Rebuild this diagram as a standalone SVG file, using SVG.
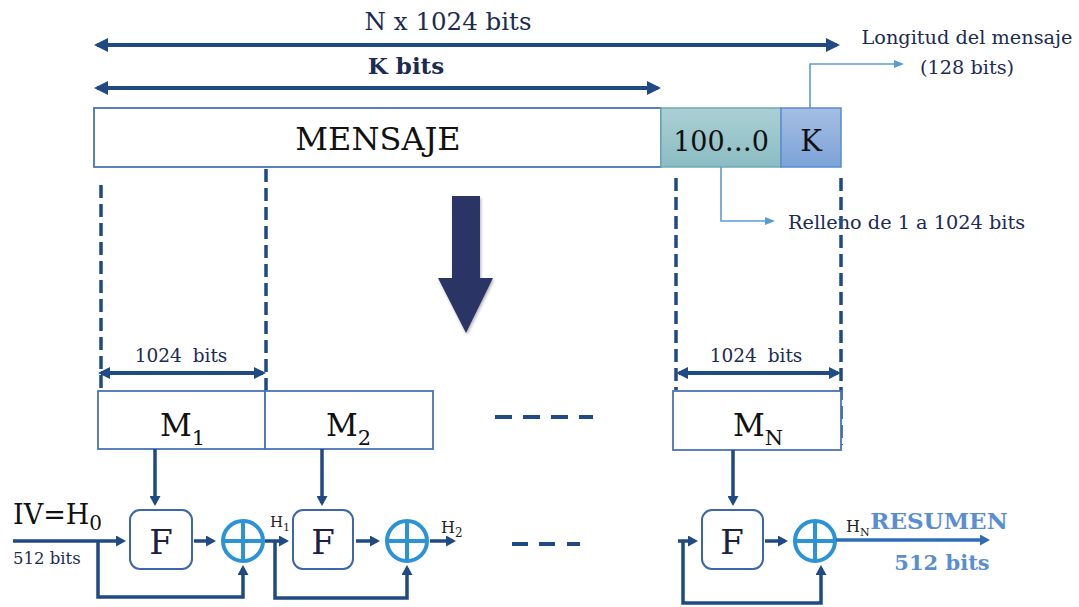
<svg xmlns="http://www.w3.org/2000/svg" width="1079" height="607" viewBox="0 0 1079 607">
<style>
.serif{font-family:"DejaVu Serif","Liberation Serif",serif}
.navy{fill:#1c2b52}
.box{fill:#fff;stroke:#4a72b8;stroke-width:1.8}
.fbox{fill:#fff;stroke:#3d66ad;stroke-width:2}
.flow{fill:none;stroke:#1f4a84;stroke-width:3.5}
.dash{fill:none;stroke:#1f4a84;stroke-width:3.5;stroke-dasharray:13 6}
.dim{fill:none;stroke:#1f4a84;stroke-width:4}
.call{fill:none;stroke:#5b9bd5;stroke-width:1.6}
.xor{fill:#fff;stroke:#2b93d6;stroke-width:4}
.plus{stroke:#2b93d6;stroke-width:4}
</style>
<defs>
<marker id="a-big" viewBox="0 0 14 14" markerWidth="14" markerHeight="14" refX="11" refY="7" orient="auto-start-reverse" markerUnits="userSpaceOnUse"><path d="M0,0 L14,7 L0,14 z" fill="#1f4a84"/></marker>
<marker id="a-dim" viewBox="0 0 12 12" markerWidth="12" markerHeight="12" refX="9" refY="6" orient="auto-start-reverse" markerUnits="userSpaceOnUse"><path d="M0,0 L12,6 L0,12 z" fill="#1f4a84"/></marker>
<marker id="a-flow" viewBox="0 0 10 11" markerWidth="10" markerHeight="11" refX="7" refY="5.5" orient="auto" markerUnits="userSpaceOnUse"><path d="M0,0 L10,5.5 L0,11 z" fill="#1f4a84"/></marker>
<marker id="a-out" viewBox="0 0 10 11" markerWidth="10" markerHeight="11" refX="7" refY="5.5" orient="auto" markerUnits="userSpaceOnUse"><path d="M0,0 L10,5.5 L0,11 z" fill="#2e6db4"/></marker>
<marker id="a-call" viewBox="0 0 10 8" markerWidth="10" markerHeight="8" refX="8" refY="4" orient="auto" markerUnits="userSpaceOnUse"><path d="M0,0 L10,4 L0,8 z" fill="#5b9bd5"/></marker>
<linearGradient id="g-pad" x1="0" y1="0" x2="0" y2="1"><stop offset="0" stop-color="#abd0d5"/><stop offset="1" stop-color="#8bbcc3"/></linearGradient>
<linearGradient id="g-k" x1="0" y1="0" x2="0" y2="1"><stop offset="0" stop-color="#a5bfe4"/><stop offset="1" stop-color="#7ca2d8"/></linearGradient>
<filter id="sh" x="-30%" y="-10%" width="160%" height="130%"><feDropShadow dx="1" dy="2" stdDeviation="1.5" flood-color="#000" flood-opacity="0.3"/></filter>
</defs>

<!-- dimension labels -->
<g id="dim-total">
<line class="dim" x1="97" y1="45" x2="837" y2="45" marker-start="url(#a-big)" marker-end="url(#a-big)"/>
<text class="serif navy" x="448" y="30" font-size="24.5" text-anchor="middle">N x 1024 bits</text>
</g>
<g id="dim-k">
<line class="dim" x1="97" y1="88" x2="658" y2="88" marker-start="url(#a-big)" marker-end="url(#a-big)"/>
<text class="serif navy" x="406" y="74" font-size="23" font-weight="bold" text-anchor="middle">K bits</text>
</g>

<!-- message boxes -->
<g id="mensaje">
<rect class="box" x="94" y="108" width="567" height="59"/>
<text class="serif" x="378" y="150" font-size="32" text-anchor="middle" fill="#111">MENSAJE</text>
</g>
<g id="relleno">
<rect x="661" y="108" width="120" height="59" fill="url(#g-pad)" stroke="#6fabb2" stroke-width="1.5"/>
<text class="serif" x="721" y="151" font-size="27" text-anchor="middle" fill="#111">100…0</text>
</g>
<g id="longitud">
<rect x="781" y="108" width="60" height="59" fill="url(#g-k)" stroke="#5b8bd0" stroke-width="1.5"/>
<text class="serif" x="811" y="151" font-size="29" text-anchor="middle" fill="#111">K</text>
</g>
<g id="label-longitud">
<text class="serif navy" x="967" y="44" font-size="19.3" text-anchor="middle">Longitud del mensaje</text>
<text class="serif navy" x="967" y="74" font-size="19.3" text-anchor="middle">(128 bits)</text>
</g>
<g id="label-relleno">
<text class="serif navy" x="788" y="229" font-size="19.3">Relleno de 1 a 1024 bits</text>
</g>

<!-- big arrow -->
<g id="big-arrow">
<polygon points="452,196 480,196 480,278 493,278 466,333 438,278 452,278" fill="#2b3566" filter="url(#sh)"/>
</g>

<!-- dashed guides and block dims -->
<g id="guides">
<line class="dash" x1="101" y1="185" x2="101" y2="395"/>
<line class="dash" x1="266" y1="169" x2="266" y2="392"/>
<line class="dash" x1="676" y1="178" x2="676" y2="390"/>
<line class="dash" x1="841" y1="178" x2="841" y2="445"/>
</g>
<g id="dim-m1">
<line class="dim" x1="101" y1="373" x2="263" y2="373" stroke-width="3.5" marker-start="url(#a-dim)" marker-end="url(#a-dim)"/>
<text class="serif navy" x="181" y="362" font-size="18.5" text-anchor="middle" word-spacing="5">1024 bits</text>
</g>
<g id="dim-mn">
<line class="dim" x1="679" y1="373" x2="838" y2="373" stroke-width="3.5" marker-start="url(#a-dim)" marker-end="url(#a-dim)"/>
<text class="serif navy" x="756" y="362" font-size="18.5" text-anchor="middle" word-spacing="5">1024 bits</text>
</g>

<!-- blocks -->
<g id="m1">
<rect class="box" x="98" y="391" width="167" height="58"/>
<text class="serif" x="160" y="436" font-size="31" fill="#111">M<tspan font-size="21" dy="9">1</tspan></text>
</g>
<g id="m2">
<rect class="box" x="265" y="391" width="168" height="58"/>
<text class="serif" x="326" y="436" font-size="31" fill="#111">M<tspan font-size="21" dy="9">2</tspan></text>
</g>
<g id="mn">
<rect class="box" x="673" y="391" width="168" height="59"/>
<text class="serif" x="733" y="436" font-size="31" fill="#111">M<tspan font-size="21" dy="9">N</tspan></text>
</g>
<g id="dots-top">
<path d="M495,417 h17 M523,417 h17 M551,417 h17 M579,417 h14" stroke="#1f4a84" stroke-width="4"/>
</g>

<!-- compression functions -->
<g id="f1">
<rect class="fbox" x="130" y="510" width="62" height="59" rx="10"/>
<text class="serif" x="161" y="554" font-size="34" text-anchor="middle" fill="#1c2044">F</text>
</g>
<g id="f2">
<rect class="fbox" x="293" y="510" width="60" height="59" rx="10"/>
<text class="serif" x="323" y="554" font-size="34" text-anchor="middle" fill="#1c2044">F</text>
</g>
<g id="fn">
<rect class="fbox" x="702" y="510" width="61" height="59" rx="10"/>
<text class="serif" x="732" y="554" font-size="34" text-anchor="middle" fill="#1c2044">F</text>
</g>
<g id="xor1">
<circle class="xor" cx="243" cy="541" r="20"/>
<path class="plus" d="M225,541 h36 M243,523 v36"/>
</g>
<g id="xor2">
<circle class="xor" cx="407" cy="541" r="20"/>
<path class="plus" d="M389,541 h36 M407,523 v36"/>
</g>
<g id="xorn">
<circle class="xor" cx="815" cy="541" r="20"/>
<path class="plus" d="M797,541 h36 M815,523 v36"/>
</g>
<g id="dots-bottom">
<path d="M512,544 h16 M539,544 h16 M567,544 h13" stroke="#1f4a84" stroke-width="4"/>
</g>

<!-- labels -->
<g id="iv">
<text class="serif" x="13" y="524" font-size="27" fill="#111">IV=H<tspan font-size="20" dy="6">0</tspan></text>
<text class="serif navy" x="13" y="564" font-size="16.5">512 bits</text>
</g>
<g id="h1"><text class="serif" x="270" y="527" font-size="15" fill="#222">H<tspan font-size="11" dy="4">1</tspan></text></g>
<g id="h2"><text class="serif" x="441" y="533" font-size="16" fill="#222">H<tspan font-size="12" dy="4">2</tspan></text></g>
<g id="hn"><text class="serif" x="846" y="532" font-size="16" fill="#222">H<tspan font-size="11" dy="4">N</tspan></text></g>
<g id="resumen">
<text class="serif" x="939" y="529" font-size="23" font-weight="bold" text-anchor="middle" fill="#5b8dd3">RESUMEN</text>
<text class="serif" x="942" y="570" font-size="21" font-weight="bold" text-anchor="middle" fill="#5b8dd3">512 bits</text>
</g>

<!-- connectors -->
<g id="connectors">
<path class="call" d="M810,108 V64 H902" marker-end="url(#a-call)"/>
<path class="call" d="M721,167 V221 H773" marker-end="url(#a-call)"/>
<line class="flow" x1="155" y1="449" x2="155" y2="503" marker-end="url(#a-flow)"/>
<line class="flow" x1="322" y1="449" x2="322" y2="503" marker-end="url(#a-flow)"/>
<line class="flow" x1="733" y1="450" x2="733" y2="503" marker-end="url(#a-flow)"/>
<line class="flow" x1="13" y1="541" x2="123" y2="541" marker-end="url(#a-flow)"/>
<path class="flow" d="M98,541 V597 H243 V568" marker-end="url(#a-flow)"/>
<line class="flow" x1="194" y1="541" x2="213" y2="541" marker-end="url(#a-flow)"/>
<line class="flow" x1="265" y1="541" x2="286" y2="541" marker-end="url(#a-flow)"/>
<path class="flow" d="M275,541 V598 H407 V568" marker-end="url(#a-flow)"/>
<line class="flow" x1="356" y1="541" x2="377" y2="541" marker-end="url(#a-flow)"/>
<line class="flow" x1="430" y1="541" x2="453" y2="541" marker-end="url(#a-flow)"/>
<line class="flow" x1="678" y1="541" x2="695" y2="541" marker-end="url(#a-flow)"/>
<path class="flow" d="M683,541 V603 H821 V568" marker-end="url(#a-flow)"/>
<line class="flow" x1="765" y1="541" x2="785" y2="541" marker-end="url(#a-flow)"/>
<line x1="836" y1="540" x2="987" y2="540" stroke="#2e6db4" stroke-width="3.5" marker-end="url(#a-out)"/>
</g>
</svg>
